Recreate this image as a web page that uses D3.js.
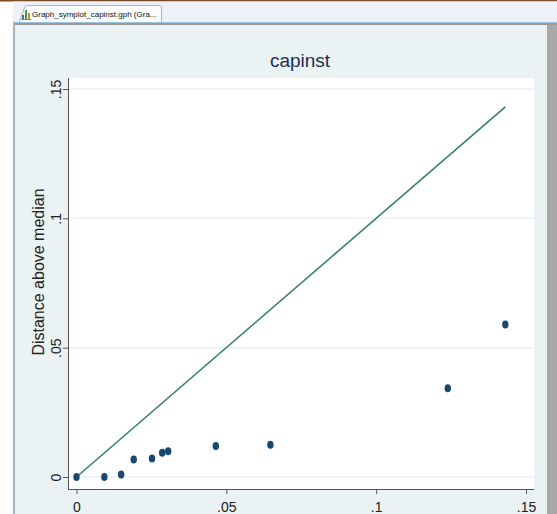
<!DOCTYPE html>
<html>
<head>
<meta charset="utf-8">
<script src="https://cdn.jsdelivr.net/npm/d3@7"></script>
<style>
  body { margin: 0; background: #fff; }
  svg { display: block; font-family: "Liberation Sans", Arial, sans-serif; }
</style>
</head>
<body>
<svg id="viz" width="557" height="514"></svg>
<script>
// distance below median (x) vs distance above median (y)
var belowMedian = [0, 0.0093, 0.0149, 0.0191, 0.0252, 0.0286, 0.0306, 0.0465, 0.0647, 0.1239, 0.1431]
var aboveMedian = [0, 0, 0.0010, 0.0068, 0.0072, 0.0094, 0.0100, 0.0120, 0.0125, 0.0343, 0.0590]
var xTicks = [0, 0.05, 0.1, 0.15]
var yTicks = [0, 0.05, 0.1, 0.15]

var svg = d3.select("#viz")

// window chrome
svg.append("rect").attr("x",0).attr("y",0).attr("width",557).attr("height",1.5).attr("fill","#7b4a26")
svg.append("rect").attr("x",13).attr("y",1.5).attr("width",544).attr("height",21).attr("fill","#eef0fa")
svg.append("path")
  .attr("d","M19,22.5 L25,6.5 Q26,5.5 28,5.5 L159,5.5 Q161.5,5.5 161.5,8 L161.5,22.5")
  .attr("fill","#fbfcfe").attr("stroke","#a6b6c8")
var icon = [[22,15,2,"#3b6fb6"],[25,10,2,"#4a9a3c"],[28,13,2,"#d08a2a"]]
icon.forEach(b=>{
  svg.append("rect").attr("x",b[0]).attr("y",b[1]).attr("width",b[2]).attr("height",19-b[1]).attr("fill",b[3])
})
svg.append("rect").attr("x",21).attr("y",19).attr("width",10).attr("height",0.8).attr("fill","#666")
svg.append("text").attr("x",32).attr("y",17).attr("font-size",8).attr("fill","#111")
  .attr("font-family","'Liberation Sans Narrow', 'Liberation Sans', sans-serif")
  .text("Graph_symplot_capinst.gph (Gra...")
svg.append("rect").attr("x",15).attr("y",22).attr("width",542).attr("height",1).attr("fill","#9cc4dc")
svg.append("rect").attr("x",15).attr("y",23).attr("width",542).attr("height",2).attr("fill","#9a9a9a")
svg.append("rect").attr("x",13).attr("y",22).attr("width",2).attr("height",492).attr("fill","#a3b3bf")
svg.append("rect").attr("x",15).attr("y",25).attr("width",532).attr("height",489).attr("fill","#eaf2f3")
svg.append("rect").attr("x",547).attr("y",25).attr("width",10).attr("height",489).attr("fill","#a9a9a9")

// plot region
var pLeft = 68, pRight = 534, pTop = 78, pBottom = 489
svg.append("rect").attr("x",pLeft).attr("y",pTop).attr("width",pRight-pLeft).attr("height",pBottom-pTop).attr("fill","#fff")

var x = d3.scaleLinear().domain([0,0.15]).range([76.5,526])
var y = d3.scaleLinear().domain([0,0.15]).range([477,89])

var fmt = d => d === 0 ? "0" : String(+d.toFixed(2)).replace(/^0/,"")

// grid
svg.append("g").selectAll("line").data(yTicks).enter().append("line")
  .attr("x1",pLeft).attr("x2",pRight)
  .attr("y1",d=>y(d)).attr("y2",d=>y(d))
  .attr("stroke","#eaf2f3").attr("stroke-width",1.5)

// axes
var yAxis = svg.append("g").attr("transform",`translate(${pLeft},0)`)
  .call(d3.axisLeft(y).tickValues(yTicks).tickFormat(fmt).tickSize(5).tickSizeOuter(0))
yAxis.select(".domain").attr("d",`M0.5,${pTop}V${pBottom}`).attr("stroke","#555")
yAxis.selectAll(".tick line").attr("stroke","#555")
yAxis.selectAll(".tick text")
  .attr("transform","rotate(-90)")
  .attr("x",0).attr("y",-7).attr("dy",0)
  .attr("text-anchor","middle")
  .attr("font-size",14).attr("fill","#222")
  .attr("font-family","'Liberation Sans', Arial, sans-serif")

var xAxis = svg.append("g").attr("transform",`translate(0,${pBottom})`)
  .call(d3.axisBottom(x).tickValues(xTicks).tickFormat(fmt).tickSize(5).tickSizeOuter(0))
xAxis.select(".domain").attr("d",`M${pLeft},0.5H${pRight}`).attr("stroke","#555")
xAxis.selectAll(".tick line").attr("stroke","#555")
xAxis.selectAll(".tick text")
  .attr("y",23).attr("dy",0)
  .attr("font-size",14).attr("fill","#222")
  .attr("font-family","'Liberation Sans', Arial, sans-serif")

// reference line y = x
var maxX = d3.max(belowMedian)
svg.append("line")
  .attr("x1",x(0)).attr("y1",y(0))
  .attr("x2",x(maxX)).attr("y2",y(maxX))
  .attr("stroke","#3a7f70").attr("stroke-width",1.6)

// points
svg.append("g").selectAll("ellipse").data(belowMedian).enter().append("ellipse")
  .attr("cx",(d)=>x(d))
  .attr("cy",(d,i)=>y(aboveMedian[i]))
  .attr("rx",3.2).attr("ry",4)
  .attr("fill","#1a476f")

// titles
svg.append("text").attr("x",300).attr("y",67).attr("text-anchor","middle")
  .attr("font-size",19).attr("fill","#1e2d52").text("capinst")
svg.append("text").attr("transform","translate(44,272) rotate(-90)")
  .attr("text-anchor","middle").attr("font-size",16).attr("fill","#222")
  .text("Distance above median")
</script>
</body>
</html>
